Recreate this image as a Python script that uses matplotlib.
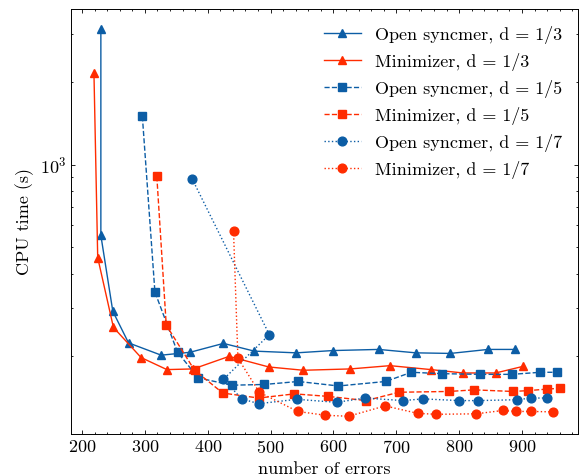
import numpy as np
import matplotlib
matplotlib.use("Agg")
import matplotlib.pyplot as plt
from matplotlib.ticker import MultipleLocator, NullFormatter

# data
os3_x = [230, 230, 249, 274, 326, 372, 425, 474, 541, 599, 672, 731, 786, 846, 889]
os3_y = [3120, 552, 292, 224, 202, 207, 223, 209, 206, 210, 212, 206, 205, 212, 212]

mini3_x = [219, 225, 250, 294, 335, 377, 434, 497, 552, 627, 690, 755, 806, 858, 902]
mini3_y = [2160, 458, 255, 198, 179, 180, 200, 183, 178, 180, 185, 179, 174, 174, 184]

os5_x = [296, 316, 352, 385, 438, 490, 544, 608, 683, 724, 772, 833, 884, 929, 955]
os5_y = [1500, 343, 207, 167, 157, 158, 162, 156, 162, 175, 173, 172, 172, 175, 175]

mini5_x = [319, 334, 379, 424, 481, 538, 591, 652, 704, 784, 824, 885, 909, 940, 960]
mini5_y = [906, 260, 178, 147, 141, 146, 143, 138, 148, 149, 151, 149, 150, 152, 153]

os7_x = [375, 498, 425, 454, 481, 542, 605, 650, 711, 742, 800, 830, 892, 914, 940]
os7_y = [889, 240, 165, 140, 134.5, 139.5, 136, 141, 138, 140, 138, 138, 139, 141, 141]

mini7_x = [441, 448, 482, 543, 587, 624, 682, 734, 763, 827, 869, 890, 915, 950]
mini7_y = [573, 197, 148, 126, 122, 121, 132, 124, 123, 123.5, 127, 126, 126, 125.5]

blue = "#0C5DA5"
red = "#FF2C00"

plt.rcParams["font.family"] = "cmr10"
plt.rcParams["mathtext.fontset"] = "cm"
plt.rcParams["axes.formatter.use_mathtext"] = True
plt.rcParams["font.size"] = 13
for a in ["xtick", "ytick"]:
    plt.rcParams[a + ".direction"] = "in"
    plt.rcParams[a + ".major.size"] = 3
    plt.rcParams[a + ".minor.size"] = 1.5
    plt.rcParams[a + ".major.width"] = 0.6
    plt.rcParams[a + ".minor.width"] = 0.6
plt.rcParams["xtick.top"] = True
plt.rcParams["ytick.right"] = True
plt.rcParams["axes.linewidth"] = 0.7

fig = plt.figure(figsize=(5.81, 4.76), dpi=100)
ax = fig.add_subplot(111)
fig.subplots_adjust(left=0.1222, right=0.9954, bottom=0.0876, top=0.9805)

ms = 6.3
ax.plot(os3_x, os3_y, color=blue, ls="-", marker="^", ms=ms, lw=1, label="Open syncmer, d = 1/3")
ax.plot(mini3_x, mini3_y, color=red, ls="-", marker="^", ms=ms, lw=1, label="Minimizer, d = 1/3")
ax.plot(os5_x, os5_y, color=blue, ls="--", marker="s", ms=ms, lw=1, label="Open syncmer, d = 1/5")
ax.plot(mini5_x, mini5_y, color=red, ls="--", marker="s", ms=ms, lw=1, label="Minimizer, d = 1/5")
ax.plot(os7_x, os7_y, color=blue, ls=":", marker="o", ms=ms, lw=1, label="Open syncmer, d = 1/7")
ax.plot(mini7_x, mini7_y, color=red, ls=":", marker="o", ms=ms, lw=1, label="Minimizer, d = 1/7")

ax.set_yscale("log")
ax.set_xlim(182.5, 989.5)
ax.set_ylim(104, 3680)
ax.xaxis.set_major_locator(MultipleLocator(100))
ax.xaxis.set_minor_locator(MultipleLocator(20))
ax.yaxis.set_minor_formatter(NullFormatter())

ax.set_xlabel("number of errors")
ax.set_ylabel("CPU time (s)")
ax.legend(loc="upper right", frameon=False)

fig.savefig("out.png", dpi=100)
